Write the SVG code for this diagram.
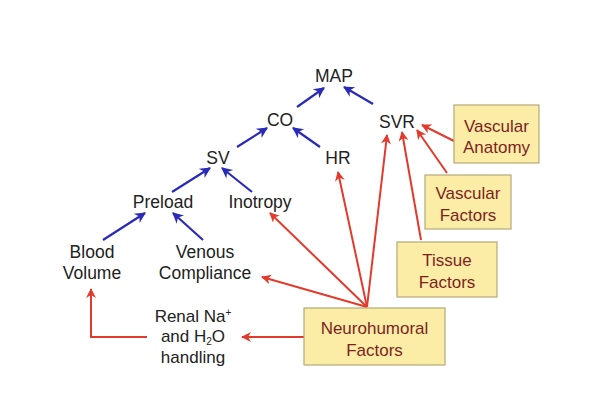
<svg xmlns="http://www.w3.org/2000/svg" width="610" height="407" viewBox="0 0 610 407">
<defs>
<style>
.t{font-family:"Liberation Sans",Arial,sans-serif;font-size:17.5px;fill:#222;text-anchor:middle}
.rn{font-size:17px}
.bt{font-family:"Liberation Sans",Arial,sans-serif;font-size:17px;fill:#7e1f1f;text-anchor:middle}
.box{fill:#fbeda6;stroke:#b5a878;stroke-width:1.2}
.b{stroke:#2a2ab8;stroke-width:2.2;fill:none;marker-end:url(#ab)}
.r{stroke:#e23a2c;stroke-width:2;fill:none;marker-end:url(#ar)}
</style>
<marker id="ab" viewBox="0 0 10 10" refX="9" refY="5" markerWidth="6" markerHeight="5" orient="auto" markerUnits="strokeWidth"><path d="M0,0 L10,5 L0,10 L3,5 Z" fill="#2a2ab8"/></marker>
<marker id="ar" viewBox="0 0 10 10" refX="9" refY="5" markerWidth="6.5" markerHeight="5" orient="auto" markerUnits="strokeWidth"><path d="M0,0 L10,5 L0,10 L3,5 Z" fill="#e23a2c"/></marker>
</defs>
<rect width="610" height="407" fill="#fff"/>
<g id="connectors">
<line class="b" x1="297" y1="107" x2="324" y2="88"/>
<line class="b" x1="373" y1="104" x2="344" y2="87"/>
<line class="b" x1="237" y1="147" x2="267" y2="128"/>
<line class="b" x1="320" y1="147" x2="293" y2="128"/>
<line class="b" x1="172" y1="192" x2="210" y2="168"/>
<line class="b" x1="252" y1="192" x2="222" y2="168"/>
<line class="b" x1="103" y1="240" x2="145" y2="213"/>
<line class="b" x1="203" y1="240" x2="173" y2="213"/>
<line class="r" x1="367" y1="307" x2="270" y2="213"/>
<line class="r" x1="367" y1="307" x2="262" y2="277"/>
<line class="r" x1="367" y1="307" x2="338" y2="172"/>
<line class="r" x1="367" y1="307" x2="387" y2="135"/>
<line class="r" x1="421" y1="240" x2="402" y2="132"/>
<line class="r" x1="447" y1="173" x2="417" y2="130"/>
<line class="r" x1="454" y1="141" x2="422" y2="125"/>
<line class="r" x1="304" y1="337" x2="242" y2="337"/>
<polyline class="r" points="147,337 91,337 91,289"/>
</g>
<g id="MAP"><text class="t" x="334" y="82">MAP</text></g>
<g id="CO"><text class="t" x="280" y="126">CO</text></g>
<g id="SVR"><text class="t" x="397" y="128">SVR</text></g>
<g id="SV"><text class="t" x="218" y="164">SV</text></g>
<g id="HR"><text class="t" x="338" y="164">HR</text></g>
<g id="Preload"><text class="t" x="163" y="208">Preload</text></g>
<g id="Inotropy"><text class="t" x="260" y="208">Inotropy</text></g>
<g id="BloodVolume"><text class="t" x="92" y="258">Blood</text><text class="t" x="92" y="279">Volume</text></g>
<g id="VenousCompliance"><text class="t" x="205" y="258">Venous</text><text class="t" x="205" y="279">Compliance</text></g>
<g id="Renal"><text class="t rn" x="193" y="322">Renal Na<tspan dy="-6" font-size="10">+</tspan></text><text class="t rn" x="193" y="342">and H<tspan dy="3" font-size="10">2</tspan><tspan dy="-3">O</tspan></text><text class="t rn" x="193" y="363">handling</text></g>
<g id="VascularAnatomy"><rect class="box" x="454" y="105" width="85" height="58"/><text class="bt" x="496.5" y="132">Vascular</text><text class="bt" x="496.5" y="153">Anatomy</text></g>
<g id="VascularFactors"><rect class="box" x="425" y="175" width="86" height="54"/><text class="bt" x="468" y="199">Vascular</text><text class="bt" x="468" y="221">Factors</text></g>
<g id="TissueFactors"><rect class="box" x="397" y="242" width="100" height="55"/><text class="bt" x="447" y="266">Tissue</text><text class="bt" x="447" y="288">Factors</text></g>
<g id="Neurohumoral"><rect class="box" x="304" y="308" width="141" height="57"/><text class="bt" x="374.5" y="334">Neurohumoral</text><text class="bt" x="374.5" y="356">Factors</text></g>
</svg>
